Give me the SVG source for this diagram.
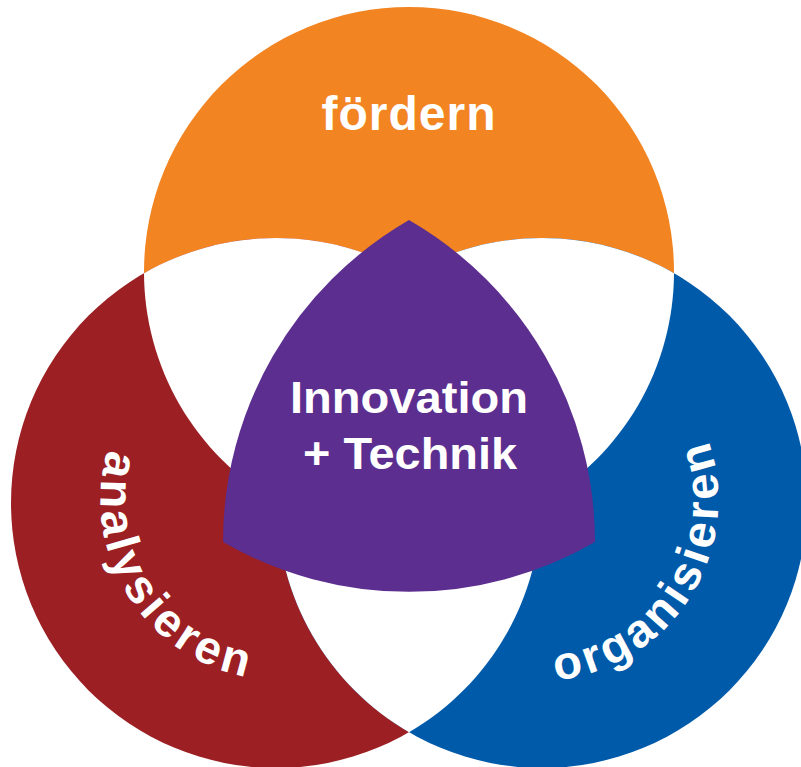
<svg xmlns="http://www.w3.org/2000/svg" width="801" height="767" viewBox="0 0 801 767">
  <style>
    .lbl { font-family: "Liberation Sans", Arial, sans-serif; font-weight: bold; fill: #ffffff; }
    .lens { fill: #ffffff; }
  </style>
  <defs>
    <path id="arcRed" d="M 156.5 369.8 A 180 180 0 0 0 342.8 669.1"/>
    <path id="arcBlue" d="M 475.0 670.1 A 181 181 0 0 0 662.1 369.0"/>
  </defs>
  <rect width="801" height="767" fill="#ffffff"/>
  <g id="foerdern">
    <circle cx="409" cy="272" r="265" fill="#F28421"/>
  </g>
  <g id="analysieren">
    <circle cx="276" cy="503" r="265" fill="#9B1F23"/>
  </g>
  <g id="organisieren">
    <circle cx="542" cy="503" r="265" fill="#005AAA"/>
  </g>
  <g id="overlaps">
    <path class="lens" d="M 144.0 273.21 A 265 265 0 0 0 541.0 501.79 A 265 265 0 0 0 144.0 273.21 Z"/>
    <path class="lens" d="M 674.0 273.21 A 265 265 0 0 1 277.0 501.79 A 265 265 0 0 1 674.0 273.21 Z"/>
    <path class="lens" d="M 409 273.79 A 265 265 0 0 1 409 732.21 A 265 265 0 0 1 409 273.79 Z"/>
  </g>
  <g id="innovation-technik">
    <path d="M 409 220 A 372 372 0 0 1 595 542 A 372 372 0 0 1 223 542 A 372 372 0 0 1 409 220 Z" fill="#5B2E8F"/>
  </g>
  <g id="labels">
    <text class="lbl" x="409" y="130" font-size="48" letter-spacing="1" text-anchor="middle">fördern</text>
    <text class="lbl" x="409" y="413" font-size="44" text-anchor="middle" textLength="238" lengthAdjust="spacingAndGlyphs">Innovation</text>
    <text class="lbl" x="410" y="469" font-size="44" text-anchor="middle" textLength="214" lengthAdjust="spacingAndGlyphs">+ Technik</text>
    <text class="lbl" font-size="47" letter-spacing="4"><textPath href="#arcRed" startOffset="50%" text-anchor="middle">analysieren</textPath></text>
    <text class="lbl" font-size="47" letter-spacing="4"><textPath href="#arcBlue" startOffset="50%" text-anchor="middle">organisieren</textPath></text>
  </g>
</svg>
